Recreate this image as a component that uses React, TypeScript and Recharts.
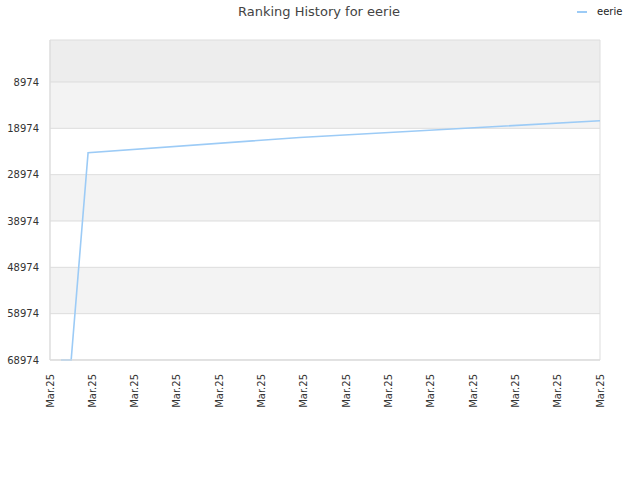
import { LineChart, Line, XAxis, YAxis, ReferenceArea, ReferenceLine } from "recharts"

// positions along the date axis (0 = first "Mar.25" tick) and the rank at each
const dayPos = [0.26, 0.5, 0.9, 5.9, 13]
const ranks = [68974, 68974, 24234, 20960, 17327]

const xTicks = [0, 1, 2, 3, 4, 5, 6, 7, 8, 9, 10, 11, 12, 13]
const xTickLabel = "Mar.25"
const yTicks = [8974, 18974, 28974, 38974, 48974, 58974, 68974]
const yTop = -90

const seriesName = "eerie"
const chartTitle = "Ranking History for eerie"

const data = dayPos.map((d, i) => ({ d, rank: ranks[i] }))

const FONT = "'DejaVu Sans', sans-serif"
const LINE = "#9ccbf6"

// background stripes between the y ticks
const bands = [yTop, ...yTicks].slice(0, -1).map((from, i) => ({
  from,
  to: yTicks[i],
  fill: i === 0 ? "#ededed" : i % 2 === 1 ? "#f3f3f3" : "#ffffff",
}))

function XTick(props: any) {
  const { x, y } = props
  return (
    <text
      transform={`translate(${x},${y}) rotate(-90)`}
      textAnchor="end"
      dy="0.35em"
      fontSize={10}
      fontFamily={FONT}
      fill="#333"
    >
      {xTickLabel}
    </text>
  )
}

export default function App() {
  return (
    <div style={{ position: "absolute", left: 0, top: 0, width: 640, height: 480, background: "#fff" }}>
      <div
        style={{
          position: "absolute",
          left: 0,
          top: 4,
          width: 638,
          textAlign: "center",
          fontFamily: FONT,
          fontSize: 13,
          color: "#444",
        }}
      >
        {chartTitle}
      </div>
      <div
        style={{
          position: "absolute",
          left: 576,
          top: 6,
          display: "flex",
          alignItems: "center",
          fontFamily: FONT,
          fontSize: 10,
          color: "#222",
        }}
      >
        <svg width={12} height={4} style={{ marginRight: 9 }}>
          <line x1={1} y1={2} x2={11} y2={2} stroke={LINE} strokeWidth={2} />
        </svg>
        {seriesName}
      </div>
      <LineChart width={640} height={480} data={data} margin={{ top: 40, right: 40, bottom: 60, left: 0 }}>
        {bands.map((b, i) => (
          <ReferenceArea
            key={"b" + i}
            x1={0}
            x2={13}
            y1={b.from}
            y2={b.to}
            fill={b.fill}
            fillOpacity={1}
            stroke="none"
          />
        ))}
        {yTicks.map((t) => (
          <ReferenceLine key={"g" + t} y={t} stroke="#dddddd" strokeWidth={1} />
        ))}
        <ReferenceArea
          x1={0}
          x2={13}
          y1={yTop}
          y2={68974}
          fill="none"
          stroke="#dddddd"
          strokeWidth={1}
        />
        <XAxis
          dataKey="d"
          type="number"
          domain={[0, 13]}
          ticks={xTicks}
          interval={0}
          height={60}
          tickSize={0}
          tickMargin={14}
          axisLine={{ stroke: "#dddddd" }}
          tickLine={false}
          tick={<XTick />}
        />
        <YAxis
          type="number"
          reversed
          domain={[yTop, 68974]}
          ticks={yTicks}
          interval={0}
          width={50}
          tickSize={0}
          tickMargin={11}
          axisLine={{ stroke: "#dddddd" }}
          tickLine={false}
          tick={{ fontSize: 10, fontFamily: FONT, fill: "#333" }}
        />
        <Line
          type="linear"
          dataKey="rank"
          name={seriesName}
          stroke={LINE}
          strokeWidth={1.6}
          dot={false}
          activeDot={false}
          isAnimationActive={false}
        />
      </LineChart>
    </div>
  )
}
